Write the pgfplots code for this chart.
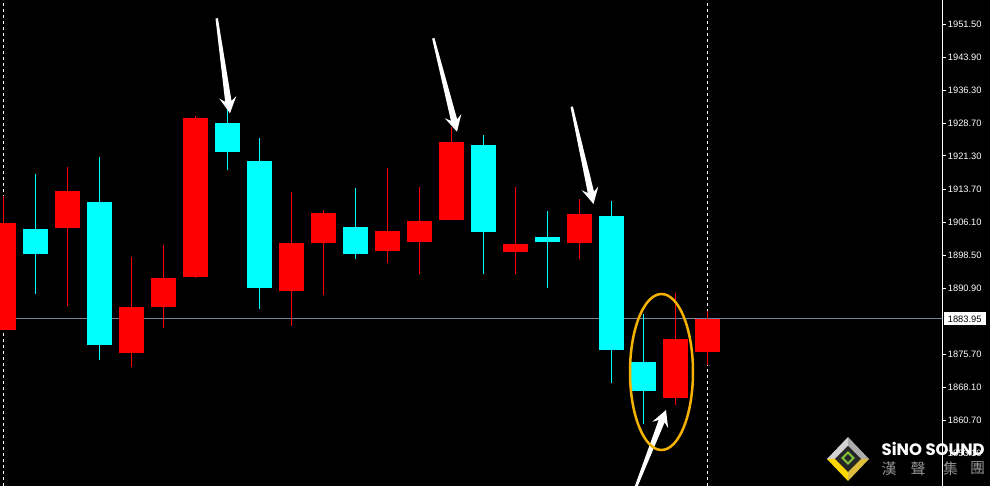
\documentclass[border=0pt]{standalone}
\usepackage{fontspec}
\setmainfont{Liberation Sans}
\newfontfamily\cjk{Noto Sans CJK TC}
\newfontfamily\logofont{Poppins}
\usepackage{graphicx}
\usepackage{pgfplots}
\usepackage{pgfplotstable}
\pgfplotsset{compat=1.18}
\usetikzlibrary{calc}
\definecolor{cred}{RGB}{255,0,0}
\definecolor{ccyan}{RGB}{0,255,255}
\definecolor{pline}{RGB}{120,134,156}
\definecolor{gold}{RGB}{245,178,0}
\definecolor{lgreen}{RGB}{130,196,60}

% candles: x, low, body bottom, body top, high
\pgfplotstableread{
x  low      bot      top      high
0  1881.35  1881.35  1905.91  1912.10
2  1886.86  1904.76  1913.25  1918.76
4  1872.86  1876.08  1886.63  1898.10
5  1881.81  1886.63  1893.29  1900.86
6  1893.29  1893.52  1930.00  1930.46
9  1882.27  1890.30  1901.32  1913.02
10 1889.39  1901.32  1908.20  1908.89
12 1896.73  1899.48  1904.07  1918.53
13 1894.20  1901.55  1906.37  1914.17
14 1906.59  1906.59  1924.49  1927.93
16 1894.20  1899.25  1901.09  1914.17
18 1897.65  1901.32  1907.97  1911.41
21 1864.14  1865.75  1879.29  1889.84
22 1873.32  1876.31  1883.95  1885.71
}\redcandles
\pgfplotstableread{
x  low      bot      top      high
1  1889.61  1898.79  1904.53  1917.15
3  1874.47  1877.91  1910.73  1921.05
7  1918.07  1922.20  1928.85  1931.84
8  1886.17  1890.99  1920.13  1925.41
11 1897.65  1898.79  1904.99  1913.94
15 1894.20  1903.84  1923.80  1926.10
17 1890.99  1901.55  1902.69  1908.66
19 1869.19  1876.77  1907.51  1910.95
20 1859.79  1867.36  1874.01  1885.03
}\cyancandles

\newcommand{\bigarrow}[2]{%
  \coordinate (T) at #1; \coordinate (P) at #2;
  \coordinate (H) at ($(P)!16bp!(T)$);
  \coordinate (N) at ($(P)!12bp!(T)$);
  \fill[white] (P) -- ($(H)!8.5bp!90:(P)$) -- ($(N)!3.2bp!90:(P)$)
    -- ($(T)!1.2bp!90:(P)$) -- ($(T)!1.2bp!-90:(P)$) -- ($(N)!3.2bp!-90:(P)$)
    -- ($(H)!8.5bp!-90:(P)$) -- cycle;}

\newcommand{\tickfont}{\fontsize{9.3bp}{10bp}\selectfont}

\pgfplotsset{
  wick/.style={draw=none, no markers, forget plot,
    error bars/.cd, y dir=both, y explicit, error mark=none,
    error bar style={draw=#1, line width=1.3bp}},
  body/.style={draw=none, no markers, forget plot,
    error bars/.cd, y dir=both, y explicit, error mark=none,
    error bar style={draw=#1, line width=25bp}},
}

\begin{document}
\begin{tikzpicture}
\fill[black] (0,0) rectangle (990bp,486bp);
\begin{axis}[
  at={(0,0)}, anchor=south west,
  scale only axis, width=942.7bp, height=486bp,
  xmin=-0.109, xmax=29.35, ymin=1845.56, ymax=1957.08,
  axis x line=none, axis y line*=right,
  y axis line style={white, line width=1bp},
  xtick=\empty,
  ytick={1845.50,1853.10,1860.70,1868.10,1875.70,1890.90,1898.50,1906.10,1913.70,1921.30,1928.70,1936.30,1943.90,1951.50},
  yticklabels={1845.50,1853.10,1860.70,1868.10,1875.70,1890.90,1898.50,1906.10,1913.70,1921.30,1928.70,1936.30,1943.90,1951.50},
  /pgf/number format/assume math mode=true,
  tick align=outside, major tick length=3bp,
  ytick style={white, line width=1bp},
  yticklabel style={text=white, font=\tickfont, anchor=west, inner sep=0pt, xshift=2bp},
  clip=true,
]
% session separators and current price line (behind the candles)
\draw[white, line width=1bp, dash pattern=on 3bp off 3bp] (axis cs:0,1845.56) -- (axis cs:0,1957.08);
\draw[white, line width=1bp, dash pattern=on 3bp off 3bp] (axis cs:22,1845.56) -- (axis cs:22,1957.08);
\draw[pline, line width=1bp] (axis cs:-0.2,1883.95) -- (axis cs:29.4,1883.95);

\addplot[wick=cred] table[x=x, y=bot,
  y error plus expr=\thisrow{high}-\thisrow{bot},
  y error minus expr=\thisrow{bot}-\thisrow{low}] {\redcandles};
\addplot[body=cred] table[x=x, y expr=(\thisrow{bot}+\thisrow{top})/2,
  y error expr=(\thisrow{top}-\thisrow{bot})/2] {\redcandles};
\addplot[wick=ccyan] table[x=x, y=bot,
  y error plus expr=\thisrow{high}-\thisrow{bot},
  y error minus expr=\thisrow{bot}-\thisrow{low}] {\cyancandles};
\addplot[body=ccyan] table[x=x, y expr=(\thisrow{bot}+\thisrow{top})/2,
  y error expr=(\thisrow{top}-\thisrow{bot})/2] {\cyancandles};
\end{axis}

% annotations in pixel coordinates (origin top-left)
\begin{scope}[x=1bp, y=-1bp, yshift=486bp]
  \bigarrow{(216.7,18.3)}{(230,113.3)}
  \bigarrow{(433.3,38.3)}{(457,131.7)}
  \bigarrow{(571.7,106.7)}{(593.5,204)}
  \bigarrow{(634,492)}{(666,410)}
  \draw[gold, line width=2.5bp] (661.5,372) ellipse [x radius=31.5, y radius=78];
  % current price box
  \fill[white] (943.5,312) rectangle (986,325.5);
  \node[text=black, font=\tickfont, inner sep=0pt] at (964.7,318.9) {1883.95};
  % logo
  \fill[gray!35] (827,459) -- (848,437) -- (848,459) -- cycle;
  \fill[gray!65] (848,437) -- (869,459) -- (848,459) -- cycle;
  \fill[yellow!75!orange] (827,459) -- (848,481) -- (848,459) -- cycle;
  \fill[yellow!45!brown] (869,459) -- (848,481) -- (848,459) -- cycle;
  \fill[black!85] (835,459) -- (848,446) -- (861,459) -- (848,472) -- cycle;
  \draw[lgreen, line width=2bp] (842.5,458) -- (848,452.5) -- (853.5,458) -- (848,463.5) -- cycle;
  \node[anchor=west, inner sep=0pt, text=white] at (881.5,448.5) {\resizebox{103bp}{!}{\logofont\bfseries SiNO SOUND}};
  \node[text=gray!85, inner sep=0pt] at (889,468.5) {\cjk\fontsize{15bp}{15bp}\selectfont 漢};
  \node[text=gray!85, inner sep=0pt] at (918,468.5) {\cjk\fontsize{15bp}{15bp}\selectfont 聲};
  \node[text=gray!85, inner sep=0pt] at (950.5,468.5) {\cjk\fontsize{15bp}{15bp}\selectfont 集};
  \node[text=gray!85, inner sep=0pt] at (977.5,468.5) {\cjk\fontsize{15bp}{15bp}\selectfont 團};
\end{scope}
\pgfresetboundingbox
\path (0,0) rectangle (990bp,486bp);
\end{tikzpicture}
\end{document}
